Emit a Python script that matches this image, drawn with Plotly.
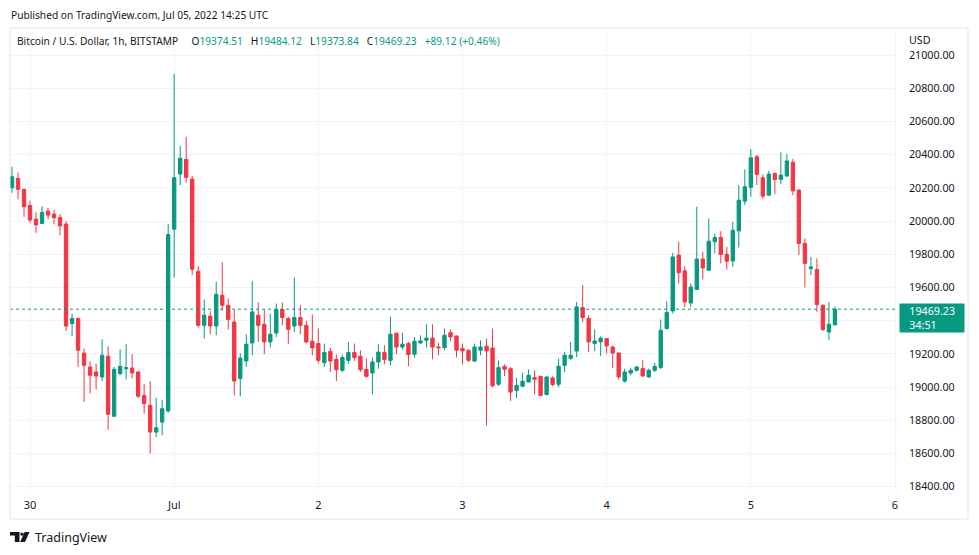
import plotly.graph_objects as go
import pandas as pd

# hourly BTC/USD candles, Bitstamp, from 2022-06-29 21:00 UTC
start = "2022-06-29 21:00"
opens = [20200, 20257, 20191, 20094, 20012, 19986, 20060, 20042, 20022, 19982,
         19383, 19413, 19205, 19121, 19091, 19061, 19186, 18824, 19081, 19110,
         19115, 19091, 18950, 18890, 18729, 18789, 18856, 19951, 20283, 20372,
         20253, 19698, 19372, 19427, 19368, 19553, 19493, 19392, 19051, 19157,
         19266, 19433, 19378, 19272, 19326, 19467, 19413, 19368, 19419, 19372,
         19276, 19262, 19147, 19216, 19167, 19101, 19161, 19208, 19186, 19107,
         19085, 19151, 19208, 19161, 19324, 19241, 19262, 19198, 19266, 19282,
         19295, 19242, 19238, 19328, 19308, 19232, 19222, 19157, 19222, 19246,
         19235, 19017, 19125, 19111, 18980, 19005, 19031, 19057, 19065, 18955,
         19055, 19017, 19131, 19174, 19217, 19479, 19413, 19262, 19272, 19292,
         19241, 19205, 19036, 19085, 19101, 19111, 19061, 19101, 19117, 19353,
         19459, 19795, 19700, 19507, 19588, 19771, 19704, 19875, 19901, 19801,
         19760, 19941, 20120, 20203, 20387, 20261, 20156, 20287, 20251, 20271,
         20354, 20187, 19865, 19714, 19708, 19493, 19332, 19374.51]
highs = [20327, 20293, 20195, 20122, 20056, 20090, 20080, 20066, 20042, 20000,
         19443, 19420, 19232, 19155, 19141, 19288, 19246, 19121, 19228, 19258,
         19198, 19095, 19017, 19035, 18936, 18924, 19982, 20886, 20452, 20508,
         20271, 19728, 19527, 19459, 19634, 19751, 19533, 19467, 19205, 19318,
         19638, 19509, 19467, 19443, 19503, 19509, 19423, 19660, 19493, 19398,
         19437, 19353, 19262, 19236, 19196, 19196, 19272, 19262, 19222, 19172,
         19178, 19258, 19252, 19423, 19330, 19328, 19272, 19302, 19312, 19378,
         19378, 19266, 19353, 19347, 19310, 19262, 19226, 19262, 19282, 19292,
         19353, 19161, 19137, 19121, 19057, 19087, 19107, 19101, 19065, 19063,
         19065, 19172, 19211, 19272, 19513, 19614, 19433, 19347, 19306, 19294,
         19250, 19208, 19111, 19117, 19125, 19161, 19111, 19145, 19407, 19517,
         19808, 19875, 19728, 19624, 20086, 19815, 20016, 19925, 19939, 19845,
         19995, 20217, 20311, 20434, 20398, 20281, 20303, 20293, 20414, 20404,
         20374, 20190, 19895, 19784, 19775, 19497, 19513, 19484.12]
lows = [20170, 20131, 20026, 19989, 19929, 19982, 20010, 19980, 19915, 19338,
        19308, 19121, 18910, 18961, 18985, 19036, 18743, 18820, 19070, 19045,
        19051, 18935, 18840, 18599, 18699, 18709, 18846, 19660, 20217, 20231,
        19674, 19358, 19292, 19318, 19312, 19459, 19347, 18950, 18944, 19121,
        19192, 19272, 19198, 19238, 19302, 19372, 19258, 19332, 19318, 19262,
        19192, 19141, 19121, 19091, 19036, 19091, 19141, 19157, 19091, 19057,
        18956, 19111, 19137, 19131, 19198, 19226, 19127, 19178, 19258, 19238,
        19167, 19192, 19222, 19278, 19178, 19137, 19151, 19151, 19192, 18769,
        19000, 19005, 19067, 18916, 18934, 19000, 19027, 18956, 18944, 18950,
        19005, 19000, 19091, 19161, 19181, 19392, 19211, 19217, 19187, 19202,
        19115, 19045, 19027, 19071, 19095, 19061, 19055, 19091, 19111, 19347,
        19443, 19624, 19483, 19483, 19584, 19648, 19700, 19805, 19745, 19708,
        19724, 19841, 20096, 20146, 20217, 20132, 20152, 20162, 20221, 20267,
        20156, 19795, 19600, 19674, 19453, 19338, 19282, 19373.84]
closes = [20267, 20191, 20086, 20006, 19977, 20052, 20036, 20020, 19971, 19368,
          19413, 19222, 19131, 19071, 19067, 19192, 18836, 19107, 19125, 19118,
          19085, 18945, 18900, 18729, 18755, 18870, 19919, 20261, 20378, 20263,
          19710, 19372, 19433, 19368, 19559, 19493, 19407, 19037, 19175, 19258,
          19453, 19372, 19272, 19318, 19467, 19419, 19348, 19419, 19372, 19272,
          19236, 19161, 19208, 19157, 19105, 19178, 19208, 19178, 19105, 19065,
          19151, 19211, 19166, 19318, 19241, 19258, 19196, 19276, 19278, 19295,
          19241, 19237, 19312, 19302, 19222, 19218, 19161, 19241, 19241, 19218,
          19008, 19117, 19107, 18970, 19010, 19035, 19071, 19047, 18950, 19061,
          19015, 19125, 19192, 19192, 19483, 19419, 19272, 19278, 19294, 19248,
          19205, 19061, 19091, 19101, 19121, 19067, 19101, 19125, 19342, 19449,
          19784, 19688, 19513, 19603, 19771, 19718, 19879, 19901, 19799, 19758,
          19945, 20126, 20207, 20381, 20281, 20150, 20283, 20251, 20277, 20362,
          20182, 19865, 19745, 19724, 19497, 19347, 19378, 19469.23]

day_ticks = ["2022-06-30", "2022-07-01", "2022-07-02", "2022-07-03",
             "2022-07-04", "2022-07-05", "2022-07-06"]
day_labels = ["30", "Jul", "2", "3", "4", "5", "6"]
price_ticks = list(range(18400, 21001, 200))
hidden_tick = 19400   # covered by the last-price label
change_text = "+89.12 (+0.46%)"
countdown = "34:51"

UP = "#089981"
DOWN = "#F23645"
INK = "#131722"
GRID = "#f0f3fa"
FONT = "Noto Sans"

times = pd.date_range(start, periods=len(closes), freq="h")

fig = go.Figure(go.Candlestick(
    x=times, open=opens, high=highs, low=lows, close=closes,
    increasing=dict(line=dict(color=UP, width=1), fillcolor=UP),
    decreasing=dict(line=dict(color=DOWN, width=1), fillcolor=DOWN),
    whiskerwidth=0,
))

# pane in page pixels: x 10..897, y 29..491; the page body adds 8px
OFF = 8
L, R, T, B = 10, 897, 29, 491


def px(x):
    return (x - L) / (R - L)


def py(y):
    return (B - y) / (B - T)


fig.update_layout(
    width=979, height=555,
    margin=dict(l=L - OFF, r=979 - (R - OFF), t=T - OFF, b=555 - (B - OFF)),
    paper_bgcolor="white", plot_bgcolor="white",
    showlegend=False, boxgap=0.2,
    font=dict(family=FONT, size=11, color=INK),
    xaxis=dict(
        type="date",
        range=["2022-06-29 20:40", "2022-07-06 00:20"],
        tickvals=day_ticks, ticktext=day_labels,
        showgrid=True, gridcolor=GRID, zeroline=False, showline=False,
        ticks="", rangeslider=dict(visible=False),
        tickfont=dict(size=11, color=INK), ticklabelstandoff=6,
    ),
    yaxis=dict(
        side="right", range=[18374, 21157],
        tickvals=price_ticks,
        ticktext=["" if v == hidden_tick else f"{v:.2f}" for v in price_ticks],
        showgrid=True, gridcolor=GRID, zeroline=False, showline=False,
        ticks="", tickfont=dict(size=10.7, color=INK), ticklabelstandoff=11,
    ),
)

# last price dotted line and label
last = closes[-1]
fig.add_shape(type="line", xref="paper", yref="y", x0=0, x1=1, y0=last, y1=last,
              line=dict(color=UP, width=1, dash="dot"))
pad = "\u00a0" * 3
fig.add_annotation(xref="paper", yref="y", x=px(899), y=last, xanchor="left",
                   yanchor="top", yshift=6,
                   text=f"{pad}{last:.2f}<br>{pad}{countdown}",
                   showarrow=False, align="left", bgcolor=UP,
                   font=dict(color="white", size=10.7, family=FONT),
                   width=62, height=26, borderpad=1)

# outer frame
fig.add_shape(type="rect", xref="paper", yref="paper",
              x0=0, x1=px(968), y0=py(519), y1=py(28),
              line=dict(color="#e0e3eb", width=1), fillcolor="rgba(0,0,0,0)")

fig.add_annotation(xref="paper", yref="paper", x=px(907), y=py(40),
                   xanchor="left", yanchor="middle", text="USD",
                   showarrow=False, font=dict(size=10.7, color=INK))

# headers
fig.add_annotation(xref="paper", yref="paper", x=px(9), y=py(15),
                   xanchor="left", yanchor="middle",
                   text="Published on TradingView.com, Jul 05, 2022 14:25 UTC",
                   showarrow=False, font=dict(size=10.2, color=INK))

sp = "\u00a0" * 3
g = "<span style='color:%s'>%s</span>"
legend = ("Bitcoin / U.S. Dollar, 1h, BITSTAMP" + "\u00a0" * 5 +
          "O" + g % (UP, f"{opens[-1]:.2f}") + sp +
          "H" + g % (UP, f"{highs[-1]:.2f}") + sp +
          "L" + g % (UP, f"{lows[-1]:.2f}") + sp +
          "C" + g % (UP, f"{closes[-1]:.2f}") + sp +
          g % (UP, change_text))
fig.add_annotation(xref="paper", yref="paper", x=px(15), y=py(41),
                   xanchor="left", yanchor="middle", text=legend,
                   showarrow=False, font=dict(size=10.2, color=INK))

# TradingView logo
fig.add_shape(type="path", xref="paper", yref="paper", fillcolor=INK, line_width=0,
              path="M %f %f L %f %f L %f %f L %f %f L %f %f L %f %f Z" % (
                  px(10), py(532), px(19.5), py(532), px(19.5), py(542),
                  px(14.8), py(542), px(14.8), py(535.6), px(10), py(535.6)))
fig.add_shape(type="circle", xref="paper", yref="paper", fillcolor=INK, line_width=0,
              x0=px(20.3), x1=px(23.7), y0=py(535.8), y1=py(532.4))
fig.add_shape(type="path", xref="paper", yref="paper", fillcolor=INK, line_width=0,
              path="M %f %f L %f %f L %f %f L %f %f Z" % (
                  px(24.6), py(532), px(29.5), py(532), px(25), py(542), px(20.2), py(542)))
fig.add_annotation(xref="paper", yref="paper", x=px(33), y=py(537),
                   xanchor="left", yanchor="middle", text="TradingView",
                   showarrow=False, font=dict(size=12.5, color=INK))

fig.write_html("out.html")
